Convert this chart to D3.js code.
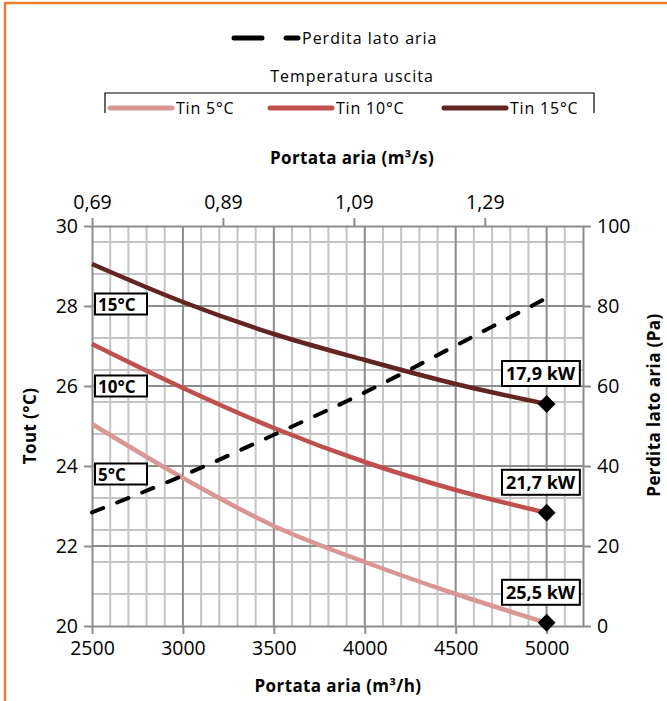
<!DOCTYPE html>
<html><head><meta charset="utf-8">
<script src="https://cdn.jsdelivr.net/npm/d3@7"></script>
<style>
body{margin:0;background:#fff;}
svg{display:block;font-family:"Open Sans", Lato, sans-serif;}
</style></head>
<body><svg id="c" width="667" height="701"></svg>
<script>
// ---- data ----
const flowM3h = [2500, 3000, 3500, 4000, 4500, 5000];
const tin5  = [25.05, 23.7, 22.5, 21.6, 20.8, 20.08];
const tin10 = [27.05, 25.95, 24.95, 24.1, 23.4, 22.83];
const tin15 = [29.05, 28.1, 27.3, 26.65, 26.05, 25.55];
const pressurePa = [28.4, 37.6, 47.8, 58.4, 70.1, 82.0];
const seriesNames = ["Tin 5°C", "Tin 10°C", "Tin 15°C"];
const curveLabels = ["5°C", "10°C", "15°C"];
const powerLabels = ["25,5 kW", "21,7 kW", "17,9 kW"];
const bottomTicks = [2500, 3000, 3500, 4000, 4500, 5000];
const leftTicks = [20, 22, 24, 26, 28, 30];
const rightTicks = [0, 20, 40, 60, 80, 100];
const topTickValues = [2500/3600, 2500/3600 + 0.2, 2500/3600 + 0.4, 2500/3600 + 0.6];
const topTickLabels = ["0,69", "0,89", "1,09", "1,29"];

const colors = ["#D99694", "#C0504D", "#632523"];
const tempSeries = [tin5, tin10, tin15];

const svg = d3.select("#c");
const X0 = 92, X1 = 583, Y0 = 626, Y1 = 226;
const x = d3.scaleLinear().domain([2500, 5200]).range([X0, X1]);
const xTop = d3.scaleLinear().domain([2500/3600, 5200/3600]).range([X0, X1]);
const y = d3.scaleLinear().domain([20, 30]).range([Y0, Y1]);
const yR = d3.scaleLinear().domain([0, 100]).range([Y0, Y1]);

// orange frame
svg.append("rect").attr("x", 5).attr("y", 3).attr("width", 700).attr("height", 740)
  .attr("fill", "none").attr("stroke", "#ED7D31").attr("stroke-width", 2.5);

// grid minor
const g = svg.append("g");
d3.range(2600, 5200, 100).filter(v => v % 500 !== 0).forEach(v => {
  g.append("line").attr("x1", x(v)).attr("x2", x(v)).attr("y1", Y1).attr("y2", Y0)
    .attr("stroke", "#C4C4C4").attr("stroke-width", 2);
});
d3.range(0, 101, 8).forEach(v => {
  if (v === 0 || v === 100) return;
  g.append("line").attr("x1", X0).attr("x2", X1).attr("y1", yR(v)).attr("y2", yR(v))
    .attr("stroke", "#C4C4C4").attr("stroke-width", 2);
});
// grid major
[3000, 3500, 4000, 4500, 5000].forEach(v => {
  g.append("line").attr("x1", x(v)).attr("x2", x(v)).attr("y1", Y1).attr("y2", Y0)
    .attr("stroke", "#8C8C8C").attr("stroke-width", 2);
});
[22, 24, 26, 28].forEach(v => {
  g.append("line").attr("x1", X0).attr("x2", X1).attr("y1", y(v)).attr("y2", y(v))
    .attr("stroke", "#8C8C8C").attr("stroke-width", 2);
});

// axes
function styleAxis(sel) {
  sel.select(".domain").attr("stroke", "#8C8C8C").attr("stroke-width", 2);
  sel.selectAll(".tick line").attr("stroke", "#8C8C8C").attr("stroke-width", 2);
  sel.selectAll(".tick text").attr("fill", "#000").style("font-size", "19.5px")
    .style("font-family", "'Open Sans', sans-serif");
}
svg.append("g").attr("transform", `translate(0,${Y0})`)
  .call(d3.axisBottom(x).tickValues(bottomTicks).tickFormat(d3.format("d"))
    .tickSize(8).tickSizeOuter(0).tickPadding(7))
  .call(styleAxis);
svg.append("g").attr("transform", `translate(0,${Y1})`)
  .call(d3.axisTop(xTop).tickValues(topTickValues).tickFormat((d, i) => topTickLabels[i])
    .tickSize(8).tickSizeOuter(0).tickPadding(9))
  .call(styleAxis);
svg.append("g").attr("transform", `translate(${X0},0)`)
  .call(d3.axisLeft(y).tickValues(leftTicks).tickSize(8).tickSizeOuter(0).tickPadding(6))
  .call(styleAxis);
svg.append("g").attr("transform", `translate(${X1},0)`)
  .call(d3.axisRight(yR).tickValues(rightTicks).tickSize(8).tickSizeOuter(0).tickPadding(6))
  .call(styleAxis);

// axis titles
function title(sel) {
  return sel.attr("text-anchor", "middle").style("font-weight", "bold")
    .style("font-size", "17px").style("letter-spacing", "0.4px");
}
svg.append("text").attr("x", 352).attr("y", 164).call(title).text("Portata aria (m³/s)");
svg.append("text").attr("x", 338).attr("y", 692).call(title).text("Portata aria (m³/h)");
svg.append("text").attr("transform", `translate(36,${(Y0 + Y1) / 2}) rotate(-90)`)
  .call(title).text("Tout (°C)");
svg.append("text").attr("transform", `translate(660,${(Y0 + Y1) / 2 - 21}) rotate(-90)`)
  .call(title).text("Perdita lato aria (Pa)");

// series
const line = d3.line().x((d, i) => x(flowM3h[i])).y(d => y(d)).curve(d3.curveMonotoneX);
tempSeries.forEach((s, k) => {
  svg.append("path").attr("d", line(s)).attr("fill", "none")
    .attr("stroke", colors[k]).attr("stroke-width", 4.5);
});
const pline = d3.line().x((d, i) => x(flowM3h[i])).y(d => yR(d)).curve(d3.curveMonotoneX);
svg.append("path").attr("d", pline(pressurePa)).attr("fill", "none")
  .attr("stroke", "#000").attr("stroke-width", 4).attr("stroke-linecap", "round")
  .attr("stroke-dasharray", "12,15");

// end markers + power labels
const last = flowM3h.length - 1;
tempSeries.forEach((s, k) => {
  const cx = x(flowM3h[last]), cy = y(s[last]);
  svg.append("path").attr("d", d3.symbol(d3.symbolSquare, 160)())
    .attr("transform", `translate(${cx},${cy}) rotate(45)`).attr("fill", "#000");
  const t = svg.append("text").attr("x", cx - 6).attr("y", cy - 24).attr("text-anchor", "middle")
    .style("font-weight", "bold").style("font-size", "18px").text(powerLabels[k]);
  const bb = t.node().getBBox();
  svg.insert("rect", function(){ return t.node(); })
    .attr("x", bb.x - 4).attr("y", cy - 43).attr("width", bb.width + 8).attr("height", 25)
    .attr("fill", "#fff").attr("stroke", "#000").attr("stroke-width", 2);
});

// left curve labels
const labelTemps = [23.8, 26.0, 28.05];
curveLabels.forEach((lab, k) => {
  const cy = y(labelTemps[k]);
  svg.append("rect").attr("x", 95).attr("y", cy - 10.5).attr("width", 52).attr("height", 21)
    .attr("fill", "#fff").attr("stroke", "#000").attr("stroke-width", 2);
  svg.append("text").attr("x", 98).attr("y", cy + 6.5)
    .style("font-weight", "bold").style("font-size", "17px").text(lab);
});

// legend
svg.append("line").attr("x1", 234).attr("x2", 298).attr("y1", 38).attr("y2", 38)
  .attr("stroke", "#000").attr("stroke-width", 5).attr("stroke-linecap", "round")
  .attr("stroke-dasharray", "28,24");
svg.append("text").attr("x", 302).attr("y", 44).style("font-size", "16px")
  .style("letter-spacing", "1px").text("Perdita lato aria");
svg.append("text").attr("x", 352).attr("y", 82).attr("text-anchor", "middle")
  .style("font-size", "16px").style("letter-spacing", "1px").text("Temperatura uscita");
svg.append("path").attr("d", "M105,113 V93 H594 V113").attr("fill", "none")
  .attr("stroke", "#000").attr("stroke-width", 1.2);
const legX = [108, 268, 442];
seriesNames.forEach((n, k) => {
  svg.append("line").attr("x1", legX[k] + 2).attr("x2", legX[k] + 64).attr("y1", 108).attr("y2", 108)
    .attr("stroke", colors[k]).attr("stroke-width", 5).attr("stroke-linecap", "round");
  svg.append("text").attr("x", legX[k] + 68).attr("y", 114).style("font-size", "16px")
    .style("letter-spacing", "0.8px").text(n);
});
</script></body></html>
